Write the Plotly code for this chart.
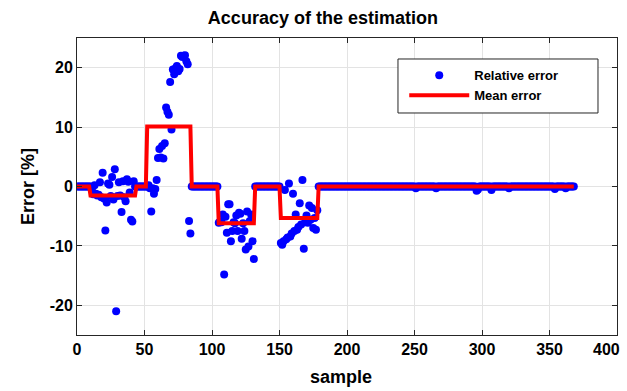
import plotly.graph_objects as go

# ---------------- data ----------------
sample = list(range(0, 369))

err_000_009 = [0, 0, 0, 0, 0, 0, 0, 0, 0, 0]
err_010_043 = [0.0, -0.5, -1.3, 0.2, -1.2, -1.5, -1.4, 0.7, -1.8, 2.3,
               -2.0, -7.4, -2.7, 0.5, 0.3, -1.6, 1.6, -2.2, 2.9, -21.0,
               -1.6, 0.7, -1.5, -4.3, 0.9, -1.8, -2.5, 1.2, 0.8, -1.0,
               -5.6, -5.9, 0.9, 0.0]
err_044_051 = [0, 0, 0, 0, 0, 0, 0, 0]
err_052_084 = [0.0, 0.2, -0.3, -4.2, -0.3, -1.2, -0.4, 1.1, 4.8, 6.3,
               4.9, 6.8, 4.7, 7.3, 13.3, 12.6, 12.1, 17.6, 9.6, 19.7,
               18.9, 19.9, 20.3, 19.4, 19.8, 22.0, 21.8, 22.0, 22.1, 21.1,
               20.6, -5.8, -7.9]
err_085_104 = [0, 0, 0, 0, 0, 0, 0, 0, 0, 0,
               0, 0, 0, 0, 0, 0, 0, 0, 0, 0]
err_105_131 = [-6.1, -5.9, -6.0, -4.7, -14.8, -5.1, -7.8, -3.0, -3.0, -9.2,
               -7.5, -6.0, -6.2, -4.9, -7.5, -4.4, -4.6, -8.8, -6.2, -7.5,
               -10.6, -4.2, -10.1, -5.8, -4.7, -9.2, -12.2]
err_132_150 = [0, 0, 0, 0, 0, 0, 0, 0, 0, 0,
               0, 0, 0, 0, 0, 0, 0, 0, 0]
err_151_178 = [-9.5, -9.8, -9.2, -0.6, -8.9, -8.6, 0.5, -8.4, -7.9, -1.2,
               -7.5, -4.7, -7.3, -6.8, -2.8, -6.4, 1.1, -10.5, -6.0, -4.9,
               -6.1, -3.2, -5.6, -3.6, -7.0, -5.3, -7.3, -4.0]
err_179_368 = [0, 0, 0, 0, 0, 0, 0, 0, 0, 0,
               0, 0, 0, 0, 0, 0, 0, 0, 0, 0,
               0, 0, 0, 0, 0, 0, 0, 0, 0, 0,
               0, 0, 0, 0, 0, 0, 0, 0, 0, 0,
               0, 0, 0, 0, 0, 0, 0, 0, 0, 0,
               0, 0, 0, 0, 0, 0, 0, 0, 0, 0,
               0, 0, 0, 0, 0, 0, 0, 0, 0, 0,
               0, 0, -0.3, 0, 0, 0, 0, 0, 0, 0,
               0, 0, 0, 0, 0, 0, 0, -0.3, 0, 0,
               0, 0, 0, 0, 0, 0, 0, 0, 0, 0,
               0, 0, 0, 0, 0, 0, 0, 0, 0, 0,
               0, 0, 0, 0, 0, 0, 0, -0.7, -0.5, 0,
               0, 0, 0, 0, 0, 0, 0, 0, -0.6, 0,
               0, 0, 0, 0, 0, 0, 0, 0, 0, 0,
               0, -0.3, 0, 0, 0, 0, 0, 0, 0, 0,
               0, 0, 0, 0, 0, 0, 0, 0, 0, 0,
               0, 0, 0, 0, 0, 0, 0, 0, 0, 0,
               0, 0, 0, 0, 0, -0.4, 0, 0, 0, 0,
               0, 0, 0, -0.3, 0, 0, 0, 0, 0, 0]

relative_error = (err_000_009 + err_010_043 + err_044_051 + err_052_084 +
                  err_085_104 + err_105_131 + err_132_150 + err_151_178 +
                  err_179_368)

mean_seg_start = [0, 10, 44, 52, 85, 105, 132, 151, 179]
mean_seg_end = [9, 43, 51, 84, 104, 131, 150, 178, 368]
mean_seg_value = [0, -1.5, 0, 10.1, 0, -6.2, 0, -5.3, 0]

x_ticks = [0, 50, 100, 150, 200, 250, 300, 350, 400]
x_tick_text = ["0", "50", "100", "150", "200", "250", "300", "350", "400"]
y_ticks = [-20, -10, 0, 10, 20]
y_tick_text = ["-20", "-10", "0", "10", "20"]

# mean error per sample, built from the segments
mean_error = []
for s in sample:
    for a, b, v in zip(mean_seg_start, mean_seg_end, mean_seg_value):
        if a <= s <= b:
            mean_error.append(v)
            break

FONT = "Liberation Sans, Arial, sans-serif"
AXC = "#262626"
TICKFONT = dict(size=16, weight="bold", color="black")

fig = go.Figure()
fig.add_trace(go.Scatter(
    x=sample, y=relative_error, mode="markers", name="Relative error",
    marker=dict(color="#0000FF", size=8, line=dict(width=0)),
))
fig.add_trace(go.Scatter(
    x=sample, y=mean_error, mode="lines", name="Mean error",
    line=dict(color="#FF0000", width=4),
))

# legend frame (box behind the legend entries)
fig.add_shape(type="rect", xref="paper", yref="paper",
              x0=0.5944, x1=0.9648, y0=0.7475, y1=0.9293,
              fillcolor="white", line=dict(color=AXC, width=1), layer="above")

# last x tick label is pulled inside the figure (as in the reference)
fig.add_annotation(x=x_ticks[-1], xref="x", y=0, yref="paper",
                   text=x_tick_text[-1], showarrow=False,
                   xanchor="right", yanchor="middle", xshift=5, yshift=-14,
                   font=TICKFONT)
# x axis title
fig.add_annotation(x=0.488, xref="paper", y=-0.141, yref="paper",
                   text="sample", showarrow=False,
                   xanchor="center", yanchor="middle",
                   font=dict(size=18, weight="bold", color="black"))

fig.update_layout(
    width=627, height=391,
    margin=dict(l=77, r=10, t=38, b=56, autoexpand=False),
    paper_bgcolor="white", plot_bgcolor="white",
    font=dict(family=FONT, color="black"),
    title=dict(text="Accuracy of the estimation", x=0.515, xanchor="center",
               y=0.955, yanchor="middle", xref="container",
               font=dict(size=18, weight="bold", color="black")),
    showlegend=True,
    legend=dict(x=0.606, y=0.925, xanchor="left", yanchor="top",
                bgcolor="rgba(0,0,0,0)", borderwidth=0,
                font=dict(size=13, weight="bold", color="black"),
                itemwidth=60),
)

fig.update_xaxes(
    range=[0, 400], tickvals=x_ticks, ticktext=x_tick_text[:-1] + [""],
    ticks="inside", ticklen=5,
    tickcolor=AXC, showline=True, linecolor=AXC, linewidth=1,
    mirror="ticks", showgrid=True, gridcolor="#e3e3e3", gridwidth=1,
    zeroline=False, automargin=False, tickfont=TICKFONT,
)
fig.update_yaxes(
    range=[-25, 25], tickvals=y_ticks, ticktext=y_tick_text, ticks="inside",
    ticklen=5, tickcolor=AXC, showline=True, linecolor=AXC, linewidth=1,
    mirror="ticks", showgrid=True, gridcolor="#e3e3e3", gridwidth=1,
    zeroline=False, automargin=False, tickfont=TICKFONT,
    title=dict(text="Error [%]", font=dict(size=18, weight="bold", color="black"),
               standoff=10),
)

fig.write_html("out.html")
